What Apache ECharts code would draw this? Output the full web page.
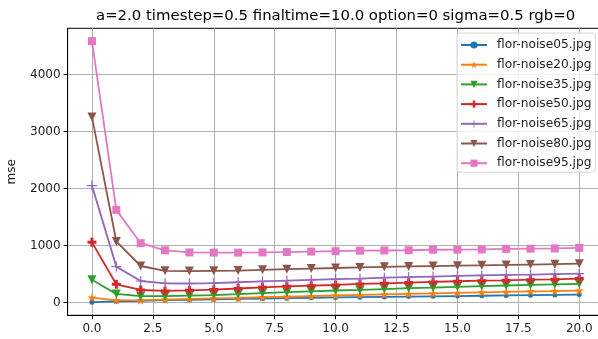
<!DOCTYPE html>
<html>
<head>
<meta charset="utf-8">
<script src="https://cdn.jsdelivr.net/npm/echarts@6/dist/echarts.min.js"></script>
<style>
  html, body { margin: 0; padding: 0; background: #fff; }
  #chart { width: 598px; height: 339px; }
</style>
</head>
<body>
<div id="chart"></div>
<script>
// Iteration steps (x values)
const steps = [0, 1, 2, 3, 4, 5, 6, 7, 8, 9, 10, 11, 12, 13, 14, 15, 16, 17, 18, 19, 20];

// Tick labels
const xTicks = [0, 2.5, 5, 7.5, 10, 12.5, 15, 17.5, 20];
const yTicks = [0, 1000, 2000, 3000, 4000];

// Series names
const names = ['flor-noise05.jpg', 'flor-noise20.jpg', 'flor-noise35.jpg', 'flor-noise50.jpg',
               'flor-noise65.jpg', 'flor-noise80.jpg', 'flor-noise95.jpg'];

// MSE per step for each noisy image
const noise05 = [5, 20, 30, 40, 48, 55, 62, 70, 76, 82, 88, 93, 98, 103, 108, 113, 118, 123, 128, 133, 138];
const noise20 = [85, 38, 40, 50, 62, 72, 80, 92, 102, 112, 122, 132, 142, 152, 160, 170, 178, 186, 194, 200, 208];
const noise35 = [400, 150, 110, 110, 120, 130, 145, 165, 180, 195, 210, 220, 235, 250, 262, 275, 287, 298, 308, 318, 328];
const noise50 = [1055, 319, 219, 202, 213, 225, 245, 266, 284, 295, 307, 325, 336, 348, 360, 372, 382, 389, 400, 406, 418];
const noise65 = [2050, 629, 377, 336, 333, 340, 355, 370, 385, 395, 410, 420, 435, 445, 455, 465, 475, 485, 490, 498, 505];
const noise80 = [3255, 1070, 640, 555, 550, 555, 560, 572, 585, 595, 605, 615, 625, 632, 638, 645, 652, 658, 665, 672, 680];
const noise95 = [4585, 1625, 1040, 915, 878, 875, 875, 878, 885, 893, 900, 908, 912, 916, 925, 927, 930, 940, 944, 948, 958];

const colors = ['#1f77b4', '#ff7f0e', '#2ca02c', '#d62728', '#9467bd', '#8c564b', '#e377c2'];

// Marker shapes
const STAR = 'path://M1000,0 L1225,691 L1951,691 L1363,1118 L1588,1809 L1000,1382 L412,1809 L637,1118 L49,691 L775,691 Z';
const TRI_DOWN = 'path://M0,0 L10,0 L5,10 Z';
const PLUS_FILLED = 'path://M3.3,0 H6.7 V3.3 H10 V6.7 H6.7 V10 H3.3 V6.7 H0 V3.3 H3.3 Z';
const PLUS_THIN = 'path://M4.4,0 H5.6 V4.4 H10 V5.6 H5.6 V10 H4.4 V5.6 H0 V4.4 H4.4 Z';

const markers = [
  { symbol: 'circle', size: 5 },
  { symbol: STAR, size: 9 },
  { symbol: TRI_DOWN, size: 9 },
  { symbol: PLUS_FILLED, size: 9 },
  { symbol: PLUS_THIN, size: 10 },
  { symbol: TRI_DOWN, size: 9 },
  { symbol: 'rect', size: 8 }
];

const values = [noise05, noise20, noise35, noise50, noise65, noise80, noise95];

const FONT = 'DejaVu Sans';

const series = values.map((vals, i) => ({
  name: names[i],
  type: 'line',
  data: steps.map((s, k) => [s, vals[k]]),
  symbol: markers[i].symbol,
  symbolSize: markers[i].size,
  showAllSymbol: true,
  lineStyle: { width: 1.8, color: colors[i] },
  itemStyle: { color: colors[i] },
  emphasis: { disabled: true },
  animation: false,
  z: 3 + i
}));

const chart = echarts.init(document.getElementById('chart'), null, { renderer: 'canvas' });

chart.setOption({
  animation: false,
  color: colors,
  title: {
    text: 'a=2.0 timestep=0.5 finaltime=10.0 option=0 sigma=0.5 rgb=0',
    left: 330.6,
    top: 4,
    textAlign: 'center',
    textStyle: { fontFamily: FONT, fontSize: 14.9, fontWeight: 'normal', color: '#000' }
  },
  grid: {
    left: 67.6, top: 28.3, width: 536, height: 287,
    containLabel: false,
    outerBoundsMode: 'none',
    show: true,
    borderColor: '#000',
    borderWidth: 1,
    backgroundColor: 'transparent'
  },
  xAxis: {
    type: 'value',
    min: -1,
    max: 21,
    axisLine: { show: true, onZero: false, lineStyle: { color: '#000', width: 1 } },
    axisTick: { show: true, length: 4, customValues: xTicks, lineStyle: { color: '#000' } },
    axisLabel: {
      customValues: xTicks,
      margin: 8,
      fontFamily: FONT, fontSize: 12, color: '#222',
      formatter: v => v.toFixed(1)
    },
    splitLine: { show: true, lineStyle: { color: '#b0b0b0', width: 1 } }
  },
  yAxis: {
    type: 'value',
    min: -225,
    max: 4810,
    name: 'mse',
    nameLocation: 'middle',
    nameGap: 50,
    nameRotate: 90,
    nameTextStyle: { fontFamily: FONT, fontSize: 12, color: '#222' },
    axisLine: { show: true, onZero: false, lineStyle: { color: '#000', width: 1 } },
    axisTick: { show: true, length: 4, customValues: yTicks, lineStyle: { color: '#000' } },
    axisLabel: {
      customValues: yTicks,
      margin: 7,
      fontFamily: FONT, fontSize: 12, color: '#222',
      formatter: v => String(v)
    },
    splitLine: { show: true, lineStyle: { color: '#b0b0b0', width: 1 } }
  },
  legend: {
    orient: 'vertical',
    left: 457,
    top: 33,
    padding: [5, 4, 2, 3],
    itemWidth: 26,
    itemHeight: 9,
    itemGap: 5.7,
    backgroundColor: 'rgba(255,255,255,0.8)',
    borderColor: '#d6d6d6',
    borderWidth: 1,
    borderRadius: 3,
    textStyle: { fontFamily: FONT, fontSize: 12.2, color: '#222', lineHeight: 14, padding: [0, 0, 0, 5] },
    data: names
  },
  series: series
});
</script>
</body>
</html>
